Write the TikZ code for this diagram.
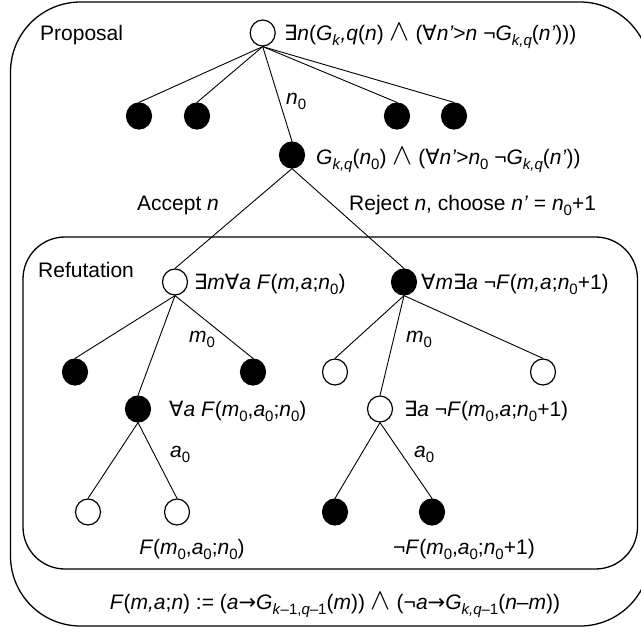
\documentclass[tikz,border=0pt]{standalone}
\usepackage{graphicx}
\usepackage{fontspec}
\setmainfont{Liberation Sans}
\newfontfamily\symf{DejaVu Sans}
\usetikzlibrary{shapes.geometric}
\newcommand\I[1]{\textit{#1}}
\newcommand\sbs[1]{\raisebox{-5pt}{\fontsize{15}{15}\selectfont #1}}
\newcommand\EX{{\symf ∃}}
\newcommand\FA{{\symf ∀}}
\newcommand\AND{\scalebox{1.45}{$\wedge$}}
\newcommand\TO{{\symf →}}
\newcommand\NOT{¬}
\tikzset{
  wn/.style={ellipse, draw, line width=1.2pt, minimum width=25pt, minimum height=26pt, inner sep=0pt, fill=white},
  bn/.style={wn, fill=black},
  edge/.style={line width=0.9pt},
  box/.style={line width=1.3pt},
  txt/.style={inner sep=0pt, anchor=base west, font=\fontsize{21}{25}\selectfont},
  ctxt/.style={txt, anchor=base},
}
\begin{document}
\begin{tikzpicture}[x=1pt,y=-1pt]
\useasboundingbox (0,0) rectangle (641,632);
\clip (0,0) rectangle (641,632);
\draw[box, rounded corners=70pt] (10.5,2) rectangle (650,626);
\draw[box, rounded corners=42pt] (23,237) rectangle (637.5,569);

% proposal tree
\node[wn] (root) at (262.7,33) {};
\node[bn] (p1) at (139,116) {};
\node[bn] (p2) at (197,116) {};
\node[bn] (p4) at (397,116) {};
\node[bn] (p5) at (454,116) {};
\node[bn] (pn) at (292,155) {};
\foreach \c in {p1,p2,p4,p5,pn} \draw[edge] (root.south) -- (\c.north);

% refutation tree
\node[wn] (L) at (175,282) {};
\node[bn] (R) at (404,282) {};
\draw[edge] (pn.south) -- (L.north);
\draw[edge] (pn.south) -- (R.north);

\node[bn] (ll) at (75,372) {};
\node[bn] (lr) at (253,372) {};
\node[bn] (lm) at (138,409) {};
\foreach \c in {ll,lr,lm} \draw[edge] (L.south) -- (\c.north);
\node[wn] (lb1) at (88,512) {};
\node[wn] (lb2) at (177,512) {};
\foreach \c in {lb1,lb2} \draw[edge] (lm.south) -- (\c.north);

\node[wn] (rl) at (335,372) {};
\node[wn] (rr) at (543,372) {};
\node[wn] (rm) at (380,409) {};
\foreach \c in {rl,rr,rm} \draw[edge] (R.south) -- (\c.north);
\node[bn] (rb1) at (335,512) {};
\node[bn] (rb2) at (432,512) {};
\foreach \c in {rb1,rb2} \draw[edge] (rm.south) -- (\c.north);

% texts
\node[txt] (tprop) at (40,40) {Proposal};
\node[txt] (troot) at (284,40) {\EX\I{n}(\I{G}\sbs{\I{k}}\I{,q}(\I{n}) \AND\ (\FA\I{n’}>\I{n} \NOT\I{G}\sbs{\I{k,q}}(\I{n’})))};
\node[txt] (tn0) at (286,104) {\I{n}\sbs{0}};
\node[txt] (tpn) at (316,164) {\I{G}\sbs{\I{k,q}}(\I{n}\sbs{0}) \AND\ (\FA\I{n’}>\I{n}\sbs{0} \NOT\I{G}\sbs{\I{k,q}}(\I{n’}))};
\node[ctxt] (tacc) at (178,210) {Accept \I{n}};
\node[txt] (trej) at (349,210) {Reject \I{n}, choose \I{n’} = \I{n}\sbs{0}+1};
\node[txt] (tref) at (38,277) {Refutation};
\node[txt] (tL) at (194,289) {\EX\I{m}\FA\I{a} \I{F}(\I{m,a};\I{n}\sbs{0})};
\node[txt] (tR) at (421,289) {\FA\I{m}\EX\I{a} \NOT\I{F}(\I{m,a};\I{n}\sbs{0}+1)};
\node[txt] (tm0a) at (189,342) {\I{m}\sbs{0}};
\node[txt] (tm0b) at (406,342) {\I{m}\sbs{0}};
\node[txt] (tlm) at (169,416) {\FA\I{a} \I{F}(\I{m}\sbs{0},\I{a}\sbs{0};\I{n}\sbs{0})};
\node[txt] (trm) at (404,416) {\EX\I{a} \NOT\I{F}(\I{m}\sbs{0},\I{a};\I{n}\sbs{0}+1)};
\node[txt] (ta0a) at (170,457) {\I{a}\sbs{0}};
\node[txt] (ta0b) at (414,457) {\I{a}\sbs{0}};
\node[ctxt] (tbl) at (192,554) {\I{F}(\I{m}\sbs{0},\I{a}\sbs{0};\I{n}\sbs{0})};
\node[ctxt] (tbr) at (464,554) {\NOT\I{F}(\I{m}\sbs{0},\I{a}\sbs{0};\I{n}\sbs{0}+1)};
\node[ctxt] (tdef) at (335,609) {\I{F}(\I{m,a};\I{n}) := (\I{a}\TO\I{G}\sbs{\I{k}–1,\I{q}–1}(\I{m})) \AND\ (\NOT\I{a}\TO\I{G}\sbs{\I{k,q}–1}(\I{n}–\I{m}))};
\end{tikzpicture}
\end{document}
